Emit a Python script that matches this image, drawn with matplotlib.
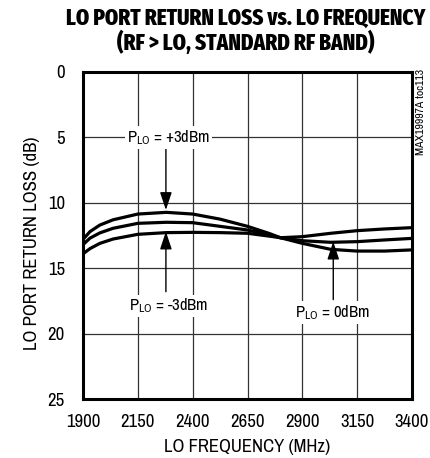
import matplotlib
matplotlib.use("Agg")
import matplotlib.pyplot as plt
from matplotlib import font_manager

# ---- data ----
freq_mhz = [1900, 1932, 1977, 2037, 2150, 2280, 2400, 2525, 2650, 2750, 2800, 2900, 3030, 3150, 3275, 3400]
rl_p3dbm = [12.8, 12.2, 11.7, 11.3, 10.86, 10.73, 10.86, 11.25, 11.8, 12.35, 12.67, 13.1, 13.56, 13.69, 13.69, 13.6]
rl_0dbm = [13.2, 12.7, 12.3, 11.95, 11.57, 11.49, 11.52, 11.8, 12.08, 12.45, 12.67, 12.9, 13.02, 12.97, 12.84, 12.72]
rl_m3dbm = [13.9, 13.5, 13.1, 12.77, 12.41, 12.28, 12.26, 12.28, 12.33, 12.55, 12.67, 12.59, 12.33, 12.13, 12.0, 11.9]
x_ticks = [1900, 2150, 2400, 2650, 2900, 3150, 3400]
y_ticks = [0, 5, 10, 15, 20, 25]

# ---- fonts ----
avail = {f.name for f in font_manager.fontManager.ttflist}
fam = "Archivo Narrow" if "Archivo Narrow" in avail else "DejaVu Sans"
tfam = "Fira Sans Extra Condensed" if "Fira Sans Extra Condensed" in avail else fam
plt.rcParams["font.family"] = [fam, "DejaVu Sans"]
plt.rcParams["mathtext.fontset"] = "custom"
plt.rcParams["mathtext.rm"] = fam
plt.rcParams["mathtext.it"] = fam

fig = plt.figure(figsize=(4.30, 4.58), dpi=100)
ax = fig.add_axes([83 / 430, 1 - 399 / 458, 329 / 430, 327 / 458])

for s in (rl_p3dbm, rl_0dbm, rl_m3dbm):
    ax.plot(freq_mhz, s, color="black", lw=2.3, solid_capstyle="butt", zorder=3)

ax.set_xlim(1900, 3400)
ax.set_ylim(25, 0)
ax.set_xticks(x_ticks)
ax.set_yticks(y_ticks)
ax.grid(True, color="#333333", lw=0.9, zorder=0)
ax.set_axisbelow(True)
ax.tick_params(length=0, labelsize=13.5, pad=11)
ax.tick_params(axis="y", pad=13)
for sp in ax.spines.values():
    sp.set_linewidth(2.2)

fig.text(0.574, 0.024, "LO FREQUENCY (MHz)", ha="center", va="center", fontsize=13.5)
fig.text(0.0744, 0.469, "LO PORT RETURN LOSS (dB)", ha="center", va="center",
         rotation=90, fontsize=13.5)

fig.text(0.572, 0.961, "LO PORT RETURN LOSS vs. LO FREQUENCY", ha="center", va="center",
         fontsize=16.5, fontweight=800, family=tfam)
fig.text(0.572, 0.906, "(RF > LO, STANDARD RF BAND)", ha="center", va="center",
         fontsize=16.5, fontweight=800, family=tfam)

fig.text(0.979, 0.755, "MAX19997A toc113", ha="center", va="center", rotation=90, fontsize=8.5)

arrow = dict(arrowstyle="-|>,head_length=0.9,head_width=0.3", mutation_scale=12,
             color="black", lw=1.0, shrinkA=0, shrinkB=0)
box = dict(facecolor="white", edgecolor="none", pad=1.5)

ax.annotate("", xy=(2278, 10.55), xytext=(2278, 5.8), arrowprops=arrow, zorder=4)
ax.annotate("", xy=(2278, 12.2), xytext=(2278, 16.8), arrowprops=arrow, zorder=4)
ax.annotate("", xy=(3041, 12.97), xytext=(3041, 17.4), arrowprops=arrow, zorder=4)

ax.text(2290, 5.0, r"P$_{\mathrm{LO}}$ = +3dBm", ha="center", va="center", fontsize=12, bbox=box, zorder=5)
ax.text(2290, 17.9, r"P$_{\mathrm{LO}}$ = -3dBm", ha="center", va="center", fontsize=12, bbox=box, zorder=5)
ax.text(3037, 18.4, r"P$_{\mathrm{LO}}$ = 0dBm", ha="center", va="center", fontsize=12, bbox=box, zorder=5)

fig.savefig("out.png", dpi=100)
